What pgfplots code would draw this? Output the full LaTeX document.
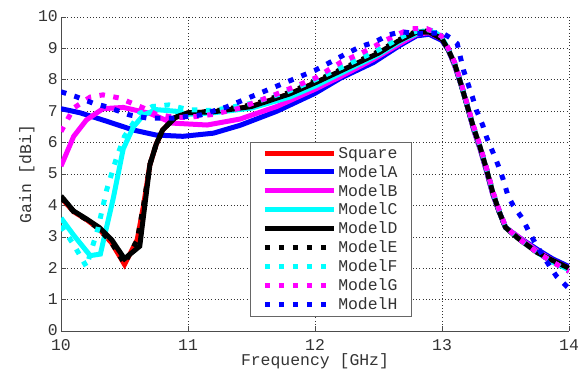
\documentclass[border=0pt]{standalone}
\usepackage{pgfplots}
\pgfplotsset{compat=1.18}
\usepackage{fontspec}
\setmainfont{Liberation Mono}
\usetikzlibrary{calc}
\definecolor{txt}{gray}{0.2}
\definecolor{cR}{rgb}{1,0,0}
\definecolor{cB}{rgb}{0,0,1}
\definecolor{cM}{rgb}{1,0,1}
\definecolor{cC}{rgb}{0,1,1}
\definecolor{cK}{rgb}{0,0,0}
\newcommand{\fs}{\fontsize{16.5}{18}\selectfont}
\tikzset{
  sol/.style={line width=5bp},
  dots/.style={line width=5bp, dash pattern=on 5.5bp off 8.5bp, line cap=butt},
}
\begin{document}
\begin{tikzpicture}
\begin{axis}[
  scale only axis, width=508bp, height=314bp,
  xmin=10, xmax=14, ymin=0, ymax=10,
  xtick={10,11,12,13,14}, ytick={0,1,...,10},
  axis x line=bottom, axis y line=left,
  axis line style={-, black!70, line width=0.6bp},
  tick align=inside, major tick length=5bp,
  tick style={black!70, line width=0.6bp},
  grid=major,
  major grid style={black!80, line width=0.6bp, dash pattern=on 0.8bp off 2.4bp},
  /pgf/number format/assume math mode=true,
  ticklabel style={font=\fs, text=txt, inner sep=1bp},
  yticklabel style={xshift=-2bp, yshift=0.5bp},
  xticklabel style={anchor=base, yshift=-19bp},
  label style={font=\fs, text=txt},
  xlabel={Frequency [GHz]}, ylabel={Gain [dBi]},
  xlabel style={at={(rel axis cs:0.5,0)}, anchor=base, yshift=-34bp},
  ylabel style={yshift=-1bp},
  legend cell align=left,
  legend style={at={(rel axis cs:0.372,0.602)}, anchor=north west,
    draw=black!60, line width=0.6bp, font=\fs, text=txt,
    inner xsep=12bp, inner ysep=3bp, row sep=1.5bp},
  legend image code/.code={\draw[#1] (0bp,0bp) -- (69bp,0bp);},
]
% Square
\addplot[sol, cR] coordinates {(10,4.25) (10.1,3.8) (10.2,3.55) (10.3,3.25) (10.4,2.8) (10.5,2.12) (10.6,2.9) (10.65,4.0) (10.7,5.3) (10.75,5.95) (10.8,6.4) (10.9,6.8) (11,6.95) (11.2,6.98) (11.5,7.15) (11.8,7.55) (12,7.9) (12.2,8.25) (12.5,8.8) (12.65,9.2) (12.8,9.5) (12.9,9.5) (13,9.3) (13.05,8.95) (13.1,8.5) (13.15,7.85) (13.2,7.15) (13.25,6.45) (13.3,5.85) (13.35,5.15) (13.4,4.4) (13.45,3.8) (13.5,3.3) (13.6,2.95) (13.75,2.5) (13.87,2.25) (14,2.0)};
\addlegendentry{Square}
% ModelA
\addplot[sol, cB] coordinates {(10,7.08) (10.15,6.95) (10.36,6.68) (10.57,6.4) (10.75,6.24) (10.96,6.2) (11.2,6.3) (11.41,6.55) (11.7,7.0) (12,7.57) (12.2,8.05) (12.46,8.55) (12.67,9.1) (12.8,9.4) (12.9,9.45) (13,9.25) (13.05,8.95) (13.1,8.45) (13.15,7.85) (13.2,7.15) (13.25,6.4) (13.3,5.8) (13.35,5.1) (13.4,4.35) (13.45,3.8) (13.5,3.3) (13.6,3.0) (13.75,2.6) (13.87,2.3) (14,2.05)};
\addlegendentry{ModelA}
% ModelB
\addplot[sol, cM] coordinates {(10,5.25) (10.1,6.2) (10.2,6.72) (10.33,7.08) (10.49,7.12) (10.7,6.93) (10.88,6.62) (11.15,6.56) (11.41,6.75) (11.7,7.15) (12,7.7) (12.2,8.1) (12.46,8.65) (12.67,9.15) (12.8,9.45) (12.9,9.5) (13,9.3) (13.05,8.95) (13.1,8.45) (13.15,7.85) (13.2,7.15) (13.25,6.4) (13.3,5.8) (13.35,5.1) (13.4,4.35) (13.45,3.8) (13.5,3.3) (13.6,3.0) (13.75,2.55) (13.87,2.25) (14,2.0)};
\addlegendentry{ModelB}
% ModelC
\addplot[sol, cC] coordinates {(10,3.6) (10.1,3.05) (10.23,2.4) (10.31,2.45) (10.41,4.2) (10.49,5.8) (10.57,6.5) (10.65,6.88) (10.75,7.05) (10.9,7.0) (11,6.9) (11.2,6.95) (11.5,7.1) (11.8,7.45) (12,7.8) (12.2,8.2) (12.5,8.8) (12.7,9.3) (12.85,9.55) (12.95,9.5) (13,9.35) (13.05,8.95) (13.1,8.5) (13.15,7.85) (13.2,7.15) (13.25,6.45) (13.3,5.85) (13.35,5.15) (13.4,4.4) (13.45,3.8) (13.5,3.3) (13.6,2.95) (13.75,2.5) (13.87,2.2) (14,1.95)};
\addlegendentry{ModelC}
% ModelD
\addplot[sol, cK] coordinates {(10,4.3) (10.1,3.82) (10.2,3.57) (10.3,3.3) (10.4,2.9) (10.5,2.3) (10.62,2.7) (10.7,5.3) (10.75,5.95) (10.8,6.4) (10.9,6.8) (11,6.95) (11.2,6.98) (11.5,7.15) (11.8,7.55) (12,7.9) (12.2,8.28) (12.5,8.85) (12.65,9.22) (12.8,9.52) (12.9,9.52) (13,9.3) (13.05,8.95) (13.1,8.5) (13.15,7.85) (13.2,7.15) (13.25,6.45) (13.3,5.85) (13.35,5.15) (13.4,4.4) (13.45,3.8) (13.5,3.3) (13.6,2.95) (13.75,2.5) (13.87,2.25) (14,2.0)};
\addlegendentry{ModelD}
% ModelE
\addplot[dots, cK] coordinates {(10,4.25) (10.1,3.8) (10.2,3.55) (10.3,3.25) (10.4,2.8) (10.5,2.15) (10.6,2.9) (10.65,4.0) (10.7,5.3) (10.75,5.95) (10.8,6.4) (10.9,6.8) (11,6.95) (11.2,7.0) (11.5,7.2) (11.8,7.6) (12,7.95) (12.2,8.32) (12.5,8.9) (12.65,9.25) (12.8,9.55) (12.9,9.55) (13,9.32) (13.05,8.97) (13.1,8.52) (13.15,7.87) (13.2,7.17) (13.25,6.47) (13.3,5.87) (13.35,5.17) (13.4,4.42) (13.45,3.82) (13.5,3.3) (13.6,2.95) (13.75,2.5) (13.87,2.2) (14,1.92)};
\addlegendentry{ModelE}
% ModelF
\addplot[dots, cC] coordinates {(10,3.35) (10.1,2.75) (10.2,2.05) (10.29,3.25) (10.36,4.5) (10.44,5.55) (10.5,6.2) (10.62,6.93) (10.72,7.15) (10.85,7.2) (11,7.05) (11.2,7.02) (11.5,7.25) (11.8,7.65) (12,8.0) (12.2,8.38) (12.5,8.95) (12.7,9.4) (12.85,9.62) (12.95,9.55) (13,9.38) (13.05,8.98) (13.1,8.53) (13.15,7.88) (13.2,7.18) (13.25,6.48) (13.3,5.88) (13.35,5.18) (13.4,4.43) (13.45,3.83) (13.5,3.32) (13.6,2.95) (13.75,2.5) (13.87,2.2) (14,1.9)};
\addlegendentry{ModelF}
% ModelG
\addplot[dots, cM] coordinates {(10,6.35) (10.1,7.1) (10.23,7.45) (10.33,7.52) (10.46,7.42) (10.65,7.1) (10.75,6.9) (10.9,6.8) (11,6.8) (11.2,6.9) (11.41,7.1) (11.7,7.55) (12,8.05) (12.2,8.55) (12.36,8.84) (12.46,9.05) (12.56,9.27) (12.67,9.48) (12.76,9.63) (12.88,9.63) (12.95,9.5) (13,9.38) (13.05,9.0) (13.1,8.55) (13.15,7.9) (13.2,7.2) (13.25,6.5) (13.3,5.9) (13.35,5.2) (13.4,4.45) (13.45,3.85) (13.5,3.33) (13.6,2.95) (13.75,2.5) (13.87,2.2) (14,1.9)};
\addlegendentry{ModelG}
% ModelH
\addplot[dots, cB] coordinates {(10,7.62) (10.12,7.46) (10.25,7.26) (10.36,7.14) (10.54,6.88) (10.68,6.78) (10.88,6.78) (11.1,6.88) (11.3,7.13) (11.45,7.38) (11.7,7.8) (12,8.3) (12.25,8.84) (12.36,9.06) (12.47,9.2) (12.58,9.43) (12.68,9.53) (12.8,9.47) (12.9,9.48) (13,9.5) (13.06,9.35) (13.12,9.15) (13.14,8.8) (13.17,8.3) (13.2,7.93) (13.24,7.45) (13.27,7.04) (13.32,6.56) (13.35,6.18) (13.4,5.7) (13.44,5.3) (13.48,4.85) (13.52,4.3) (13.56,4.0) (13.63,3.6) (13.68,3.2) (13.73,2.83) (13.8,2.36) (13.9,1.75) (14,1.35)};
\addlegendentry{ModelH}
\coordinate (sw) at (rel axis cs:0,0);
\coordinate (ne) at (rel axis cs:1,1);
\end{axis}
\pgfresetboundingbox
\path[use as bounding box] ($(sw)+(-61bp,-39bp)$) rectangle ($(ne)+(15bp,17bp)$);
\end{tikzpicture}
\end{document}
